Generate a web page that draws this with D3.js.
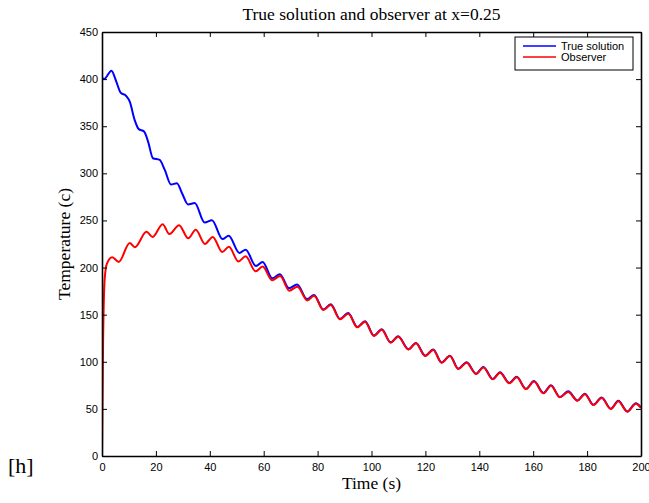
<!DOCTYPE html>
<html>
<head>
<meta charset="utf-8">
<script src="https://cdn.jsdelivr.net/npm/d3@7"></script>
<style>
  body { margin: 0; background: #fff; }
  svg { display: block; }
  .tick text { font-family: "Liberation Sans", Arial, sans-serif; font-size: 11px; fill: #000; }
</style>
</head>
<body>
<div id="graph"></div>
<script>
const width = 649
const height = 503

// values (time in s, temperature in c)
const trueTime = [0, 0.8, 3.5, 5.3, 6.9, 9.0, 10.3, 12.1, 13.6, 15.6, 17.1, 18.9, 21.4, 23.3, 25.6, 27.8, 29.7,
  31.9, 34.4, 38.1, 40.8, 44.7, 47.0, 51.0, 53.3, 57.1, 59.6, 63.2, 66.0, 69.4, 72.4, 76.1, 78.7,
  82.1, 84.9, 88.3, 91.4, 94.7, 97.6, 100.9, 103.8, 107.1, 109.9, 113.7, 116.5, 119.9, 122.9, 126.0, 129.1,
  132.2, 135.3, 138.8, 141.5, 145.0, 147.7, 151.1, 153.9, 157.3, 160.3, 163.8, 166.6, 169.9, 173.0,
  176.4, 179.2, 182.3, 185.4, 188.8, 191.6, 194.9, 198.1, 200]
const trueTemp = [401.5, 400, 409, 397.4, 385.7, 382, 376, 356.7, 347, 344.3, 333.7, 316, 314.2, 303.6, 288.2, 289.5, 278.9,
  267, 268.5, 247.7, 250.2, 230.2, 233.7, 215.5, 219, 201.7, 206, 188.6, 193, 178, 182, 166.5, 171,
  155.5, 161, 145.5, 151.8, 137, 143, 127.8, 134.5, 120.6, 127, 113.3, 120, 106.5, 113, 99.3, 106.5,
  92.7, 99.5, 87.3, 94.5, 81.7, 89, 77.5, 84, 71.3, 79.5, 66.8, 75.2, 62.6, 68.6,
  59, 66, 54.4, 62, 50.2, 58.6, 47.3, 56, 51.5]

const obsTime = [0, 0.4, 1.0, 1.8, 3.8, 6.2, 10.3, 12.2, 16.5, 18.8, 22.5, 25.0, 28.6, 32.0, 34.8, 38.2, 41.1,
  44.6, 47.1, 50.6, 53.3, 57.0, 59.6, 63.1, 66.1, 69.5, 72.5, 76.2, 78.7,
  82.1, 84.9, 88.3, 91.4, 94.7, 97.6, 100.9, 103.8, 107.1, 109.9, 113.7, 116.5, 119.9, 122.9, 126.0, 129.1,
  132.2, 135.3, 138.8, 141.5, 145.0, 147.7, 151.1, 153.9, 157.3, 160.3, 163.8, 166.6, 169.9, 173.0,
  176.4, 179.2, 182.3, 185.4, 188.8, 191.6, 194.9, 198.1, 200]
const obsTemp = [0, 120, 188, 204, 211, 206, 226, 221.5, 238, 232.5, 246, 235.5, 245, 231, 240, 225, 232.5,
  216.5, 222, 206.5, 212, 196, 201, 186.5, 191, 175.5, 179.7, 165, 170,
  155, 160.3, 145.1, 151, 136.6, 142.6, 127.4, 134, 120.3, 126.6, 113, 119.6, 106.2, 112.5, 99, 106,
  92.4, 99, 87, 94, 81.4, 88.4, 77.2, 83.5, 71, 79, 66.5, 74.6, 62.3, 68,
  58.7, 65.5, 54.1, 61.5, 49.9, 58, 47, 55.5, 51]

const xTicks = [0, 20, 40, 60, 80, 100, 120, 140, 160, 180, 200]
const yTicks = [0, 50, 100, 150, 200, 250, 300, 350, 400, 450]
const seriesNames = ['True solution', 'Observer']
const seriesColors = ['#0000ff', '#ff0000']

const plot = {left: 102, right: 641, top: 32, bottom: 456}

const svg = d3.select('#graph')
  .append('svg')
  .attr('width', width)
  .attr('height', height)

const xScale = d3.scaleLinear().domain([0, 200]).range([plot.left, plot.right])
const yScale = d3.scaleLinear().domain([0, 450]).range([plot.bottom, plot.top])

svg.append('defs').append('clipPath').attr('id', 'clip')
  .append('rect')
  .attr('x', plot.left).attr('y', plot.top)
  .attr('width', plot.right - plot.left).attr('height', plot.bottom - plot.top)

// lines
const line = d3.line()
  .x(d => xScale(d[0]))
  .y(d => yScale(d[1]))
  .curve(d3.curveMonotoneX)

const series = [
  d3.zip(trueTime, trueTemp),
  d3.zip(obsTime, obsTemp)
]

series.forEach((pts, i) => {
  svg.append('path')
    .attr('clip-path', 'url(#clip)')
    .attr('d', line(pts))
    .attr('fill', 'none')
    .attr('stroke', seriesColors[i])
    .attr('stroke-width', 2)
    .attr('stroke-linejoin', 'round')
})

// axes with inward ticks on all four sides
const styleAxis = (g) => {
  g.select('.domain').attr('stroke', '#000').attr('stroke-width', 1.6)
  g.selectAll('.tick line').attr('stroke', '#000').attr('stroke-width', 1)
}

svg.append('g')
  .attr('transform', `translate(0,${plot.bottom})`)
  .call(d3.axisBottom(xScale).tickValues(xTicks).tickSize(-5).tickSizeOuter(0).tickPadding(7))
  .call(styleAxis)

svg.append('g')
  .attr('transform', `translate(0,${plot.top})`)
  .call(d3.axisTop(xScale).tickValues(xTicks).tickSize(-5).tickSizeOuter(0).tickFormat(''))
  .call(styleAxis)

svg.append('g')
  .attr('transform', `translate(${plot.left},0)`)
  .call(d3.axisLeft(yScale).tickValues(yTicks).tickSize(-5).tickSizeOuter(0).tickPadding(4))
  .call(styleAxis)

svg.append('g')
  .attr('transform', `translate(${plot.right},0)`)
  .call(d3.axisRight(yScale).tickValues(yTicks).tickSize(-5).tickSizeOuter(0).tickFormat(''))
  .call(styleAxis)

// title and axis labels
const serif = '"Liberation Serif", "Times New Roman", serif'

svg.append('text')
  .attr('x', (plot.left + plot.right) / 2)
  .attr('y', 20)
  .attr('text-anchor', 'middle')
  .attr('font-family', serif)
  .attr('font-size', 17.5)
  .text('True solution and observer at x=0.25')

svg.append('text')
  .attr('x', (plot.left + plot.right) / 2)
  .attr('y', 489)
  .attr('text-anchor', 'middle')
  .attr('font-family', serif)
  .attr('font-size', 17.5)
  .text('Time (s)')

svg.append('text')
  .attr('transform', `translate(70,${(plot.top + plot.bottom) / 2}) rotate(-90)`)
  .attr('text-anchor', 'middle')
  .attr('font-family', serif)
  .attr('font-size', 17.5)
  .text('Temperature (c)')

svg.append('text')
  .attr('x', 8)
  .attr('y', 473)
  .attr('font-family', serif)
  .attr('font-size', 22)
  .text('[h]')

// legend
const legend = svg.append('g').attr('transform', 'translate(515,37)')

legend.append('rect')
  .attr('width', 118)
  .attr('height', 33)
  .attr('fill', '#fff')
  .attr('stroke', '#000')
  .attr('stroke-width', 1)

seriesNames.forEach((name, i) => {
  const y = 9 + i * 11
  legend.append('line')
    .attr('x1', 8).attr('x2', 41)
    .attr('y1', y).attr('y2', y)
    .attr('stroke', seriesColors[i])
    .attr('stroke-width', 1.5)
  legend.append('text')
    .attr('x', 46)
    .attr('y', y + 4)
    .attr('font-family', '"Liberation Sans", Arial, sans-serif')
    .attr('font-size', 11)
    .text(name)
})
</script>
</body>
</html>
